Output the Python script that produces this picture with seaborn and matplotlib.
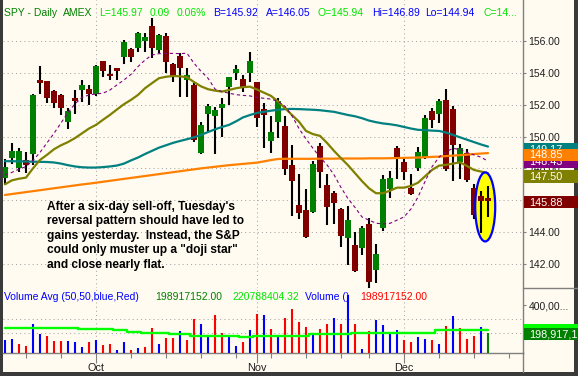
import numpy as np
import pandas as pd
import matplotlib
matplotlib.use("Agg")
import matplotlib.pyplot as plt
import seaborn as sns
from matplotlib.patches import Rectangle, Ellipse
from matplotlib.lines import Line2D

sns.set_theme(style="white")
plt.rcParams['font.family'] = ['Liberation Sans', 'DejaVu Sans']

# ---------------- data ----------------
dates = pd.bdate_range("2007-09-12", "2007-12-19")
dates = dates[dates != pd.Timestamp("2007-11-22")]

opens = [147.38,148.67,148.05,148.53,148.90,153.54,153.47,152.85,152.60,150.93,
         152.43,152.95,153.01,152.64,154.73,153.93,154.27,155.00,155.52,155.56,
         156.02,156.94,155.43,156.31,154.54,155.06,153.55,153.24,148.95,151.40,
         151.29,151.77,153.13,153.97,153.61,154.01,153.41,151.73,149.72,150.93,
         150.66,148.22,145.71,145.39,145.24,149.41,146.96,146.44,145.45,143.65,
         143.19,143.03,144.51,141.63,144.24,146.71,149.26,148.42,146.79,148.05,
         148.70,151.61,151.40,152.30,151.73,148.38,148.95,146.79,146.27,146.16]
highs = [148.57,149.57,149.26,149.00,152.70,154.43,153.50,152.90,152.65,151.76,
         152.90,153.54,153.26,154.52,154.75,154.48,154.31,156.06,155.55,156.56,
         156.50,157.42,156.45,156.50,154.60,155.23,154.29,153.36,150.93,152.05,
         151.88,152.40,153.76,154.49,153.87,155.33,153.44,152.09,151.31,152.44,
         151.31,149.47,147.65,146.71,148.47,149.58,147.65,146.60,145.50,145.64,
         143.99,144.39,144.91,143.26,147.59,147.86,149.43,148.64,147.65,149.33,
         151.36,151.78,152.36,152.99,151.92,149.52,149.20,147.00,146.60,146.89]
lows = [146.96,148.25,147.80,147.69,148.20,152.70,152.08,151.76,151.34,150.50,
        151.39,152.18,151.97,152.56,153.75,153.54,153.54,154.58,154.68,155.33,
        155.31,154.91,155.23,153.97,153.44,152.50,152.50,149.68,148.90,150.31,
        148.89,149.95,151.98,153.55,152.82,153.44,150.62,149.26,148.99,149.93,
        147.59,145.03,144.83,143.65,145.18,146.79,144.45,144.51,143.09,141.94,
        141.52,142.57,140.51,140.79,144.07,146.13,147.34,147.28,146.33,147.86,
        148.60,150.56,150.87,147.86,147.23,147.34,147.13,144.83,143.92,144.94]
closes = [148.11,149.09,149.09,148.21,152.60,153.39,152.39,152.08,151.76,151.60,
          152.26,153.22,152.64,154.41,154.10,153.81,154.10,155.94,155.00,156.50,
          156.27,155.54,156.38,154.70,153.76,154.29,153.87,149.78,150.73,151.92,
          151.67,152.05,153.72,154.24,153.03,154.74,151.15,151.35,150.31,152.23,
          147.96,147.23,145.22,143.71,148.26,147.79,145.60,145.85,143.77,144.76,
          141.56,144.28,140.85,142.63,147.34,147.38,148.74,147.79,146.38,149.05,
          151.15,151.04,152.23,147.96,149.47,149.30,147.28,145.08,145.97,145.97]

ma10 = [147.59,147.75,147.95,148.11,148.50,149.00,149.60,150.20,150.85,151.50,
        152.05,152.45,152.61,152.67,152.72,152.92,153.24,153.55,153.90,154.39,
        154.80,155.12,155.20,155.22,155.22,155.20,155.23,154.60,154.10,153.66,
        152.98,152.82,152.72,152.63,152.58,152.55,152.45,152.40,152.35,152.20,
        151.90,151.30,150.50,149.85,149.26,148.70,148.22,147.60,146.80,146.10,
        145.55,144.95,144.75,144.56,144.51,144.55,144.75,144.95,145.45,146.20,
        147.17,148.10,148.70,149.05,149.25,149.20,149.00,148.85,148.70,148.45]
ma20 = [147.00,147.25,147.35,147.42,148.00,148.53,148.85,149.20,149.45,149.65,
        149.90,150.20,150.50,150.73,151.05,151.36,151.70,152.03,152.30,152.61,
        153.03,153.35,153.66,153.75,153.80,153.78,153.72,153.42,153.15,152.97,
        152.88,152.82,152.92,153.03,153.10,153.13,152.95,152.75,152.55,152.20,
        151.78,151.35,150.93,150.35,150.15,150.04,149.60,149.10,148.64,148.20,
        147.70,147.20,146.75,146.44,146.44,146.60,146.79,146.79,146.90,147.10,
        147.50,147.90,148.17,148.22,148.30,148.38,148.15,147.90,147.80,147.70]
ma50 = [148.45,148.45,148.44,148.43,148.42,148.41,148.40,148.37,148.30,148.20,
        148.12,148.07,148.05,148.05,148.08,148.12,148.18,148.30,148.50,148.68,
        148.90,149.10,149.30,149.45,149.60,149.72,149.83,149.95,150.10,150.28,
        150.45,150.60,150.73,150.95,151.20,151.35,151.48,151.55,151.62,151.68,
        151.72,151.73,151.72,151.70,151.68,151.65,151.60,151.55,151.45,151.35,
        151.27,151.15,151.00,150.90,150.82,150.77,150.70,150.60,150.50,150.42,
        150.40,150.37,150.35,150.25,150.10,149.95,149.80,149.65,149.50,149.37]
ma200 = [146.33,146.39,146.45,146.51,146.57,146.63,146.69,146.75,146.81,146.87,
         146.93,146.99,147.04,147.10,147.16,147.22,147.28,147.34,147.40,147.46,
         147.52,147.58,147.64,147.70,147.76,147.82,147.88,147.94,148.00,148.05,
         148.10,148.15,148.20,148.24,148.28,148.32,148.36,148.44,148.52,148.59,
         148.60,148.60,148.60,148.60,148.60,148.61,148.61,148.61,148.62,148.62,
         148.62,148.62,148.63,148.63,148.63,148.64,148.65,148.66,148.67,148.68,
         148.70,148.72,148.74,148.77,148.80,148.83,148.86,148.90,148.93,148.96]

volume_m = [152,159,124,109,266,195,181,145,145,145,
            138,102,138,152,119,124,81,138,81,97,
            102,238,124,166,166,216,152,302,269,181,
            333,205,181,109,138,224,340,333,231,181,
            307,373,283,247,200,231,269,309,269,473,
            264,86,216,297,261,204,226,152,138,174,
            159,152,124,254,324,236,159,181,245,199]
volume_dir = "BBRRBBRRRBBBRBRRBBRBRRBRRBRRBBRRBBRBRBRBRRRRBRRBRBRBRBBBBRRBBRBRBRRRBG"
vol_avg_m = [236,236,236,236,236,236,236,236,236,236,
             236,231,231,231,231,231,221,221,212,212,
             204,204,204,204,195,195,195,183,183,183,
             183,183,183,183,171,171,181,181,181,181,
             181,181,181,181,193,193,193,193,193,193,
             204,204,204,204,204,204,204,204,204,204,
             204,204,221,221,221,221,221,221,221,221]

price_ticks = [142, 144, 146, 148, 150, 152, 154, 156]
month_names = ["Oct", "Nov", "Dec"]

header = [("SPY - Daily", "#008000"), ("AMEX", "#008000"), ("L=145.97", "#00E600"),
          ("0.09", "#00E600"), ("0.06%", "#00E600"), ("B=145.92", "#0000FF"),
          ("A=146.05", "#0000FF"), ("O=145.94", "#00E600"), ("Hi=146.89", "#0000FF"),
          ("Lo=144.94", "#0000FF"), ("C=14...", "#00E600")]
vol_header = [("Volume Avg (50,50,blue,Red)", "#0000FF"), ("198917152.00", "#008000"),
              ("220788404.32", "#00E600"), ("Volume ()", "#0000FF"), ("198917152.00", "#FF0000")]
note_lines = ["After a six-day sell-off, Tuesday's",
              "reversal pattern should have led to",
              "gains yesterday.  Instead, the S&P",
              "could only muster up a \"doji star\"",
              "and close nearly flat."]

# ---------------- figure ----------------
W, H = 578, 376
CREAM = "#FFFBF0"
GRID = "#A8A8A8"
SPINE = "#808080"
FS = 7.5
fig = plt.figure(figsize=(W / 100, H / 100), dpi=100, facecolor="#3A3A3A")
fig.patches.append(Rectangle((3.3 / W, 1 - 371.5 / H), (574 - 3.3) / W, 371.5 / H,
                             transform=fig.transFigure, facecolor=CREAM,
                             edgecolor="none", zorder=-10))

def fpx(px, py):
    return px / W, 1 - py / H

ax1 = fig.add_axes([3.3 / W, 1 - 288 / H, 519.7 / W, 288 / H])
ax2 = fig.add_axes([3.3 / W, 1 - 352.5 / H, 519.7 / W, 64 / H])
for a in (ax1, ax2):
    a.set_facecolor("none")
    for s in ("left", "top"):
        a.spines[s].set_visible(False)
    a.spines["right"].set_color(SPINE)
    a.spines["right"].set_linewidth(1.0)
ax1.spines["bottom"].set_visible(False)
ax2.spines["bottom"].set_color(SPINE)
ax2.spines["bottom"].set_linewidth(1.0)

x = np.arange(len(dates))
o = np.array(opens); c = np.array(closes); hi = np.array(highs); lo = np.array(lows)
XMIN, XMAX = -0.24, 74.0
PMIN, PMAX = 140.49, 158.57
PPU = 288 / (PMAX - PMIN)

month_idx = [i for i in range(1, len(dates)) if dates[i].month != dates[i - 1].month]
week_idx = [i for i in range(len(dates)) if dates[i].weekday() == 0 or
            (i > 0 and dates[i].isocalendar()[1] != dates[i - 1].isocalendar()[1])]
week_idx = week_idx + [week_idx[-1] + 5]

# grid
ax1.set_xlim(XMIN, XMAX); ax1.set_ylim(PMIN, PMAX)
ax1.set_xticks(month_idx)
ax1.tick_params(axis="x", length=0, labelbottom=False)
ax1.grid(True, color=GRID, linestyle=(0, (1, 3)), linewidth=0.75)

# candles
def draw_candles(idx, z):
    idx = np.asarray(idx)
    up = c[idx] >= o[idx]
    colors = np.where(up, "#008000", "#800000")
    ax1.vlines(x[idx], lo[idx], hi[idx], color="black", linewidth=1.5, zorder=z)
    body = np.maximum(np.abs(c[idx] - o[idx]), 0.12)
    ax1.bar(x[idx], body, bottom=np.minimum(o[idx], c[idx]), width=0.74,
            color=colors, linewidth=0, zorder=z + 0.1)

draw_candles(np.arange(len(x)), 3)

# moving averages
sns.lineplot(x=x, y=ma200, ax=ax1, color="#FF8000", linewidth=1.6, zorder=4)
sns.lineplot(x=x, y=ma50, ax=ax1, color="#008080", linewidth=1.6, zorder=4)
sns.lineplot(x=x, y=ma20, ax=ax1, color="#808000", linewidth=1.6, zorder=4)
sns.lineplot(x=x, y=ma10, ax=ax1, color="#800080", linewidth=0.8,
             linestyle=(0, (3, 2.5)), zorder=4)

# highlight ellipse around the doji
ax1.add_patch(Ellipse((68.6, 145.58), width=2.86, height=69 / PPU,
                      facecolor="#FFFF00", edgecolor="#0000FF", linewidth=1.6, zorder=5))
draw_candles([68, 69], 6)

# price axis
ax1.yaxis.tick_right()
ax1.set_yticks(price_ticks)
ax1.set_yticklabels([f"{v:.2f}" for v in price_ticks])
ax1.tick_params(axis="y", length=2.2, width=0.8, color=SPINE, labelsize=FS,
                labelcolor="#202020", pad=1.8, left=False, right=True)
ax1.set_xlabel(""); ax1.set_ylabel("")

ytr = ax1.get_yaxis_transform()
def price_label(val, color, text, z):
    h = 12.5 / PPU
    ax1.add_patch(Rectangle((1.0015, val - h / 2), 0.12, h, transform=ytr,
                            facecolor=color, edgecolor="none", clip_on=False, zorder=z))
    ax1.text(1.0115, val - 0.03, text, transform=ytr, color="white", fontsize=FS + 0.3,
             ha="left", va="center", clip_on=False, zorder=z + 0.1)

price_label(149.17, "#008080", "149.17", 20)
price_label(148.43, "#800080", "148.43", 21)
price_label(148.85, "#FF8000", "148.85", 22)
price_label(147.50, "#808000", "147.50", 23)
price_label(145.88, "#800000", "145.88", 24)

# ---------------- volume panel ----------------
VMIN, VMAX = 62.9, 519.9
VPU = 64 / (VMAX - VMIN)
ax2.set_xlim(XMIN, XMAX); ax2.set_ylim(VMIN, VMAX)
vcol = {"B": "#0000FF", "R": "#FF0000", "G": "#008000"}
ax2.vlines(x, VMIN, volume_m, colors=[vcol[k] for k in volume_dir], linewidth=1.5, zorder=3)
sns.lineplot(x=x, y=vol_avg_m, ax=ax2, color="#00FF00", linewidth=1.7,
             drawstyle="steps-mid", zorder=4)
for gv in (200, 300):
    ax2.axhline(gv, color=GRID, linestyle=(0, (1, 3)), linewidth=0.75, zorder=1)
for mi in month_idx:
    ax2.axvline(mi, color=GRID, linestyle=(0, (1, 3)), linewidth=0.75, zorder=1)
ax2.yaxis.tick_right()
ax2.set_yticks([400])
ax2.set_yticklabels(["400,00..."])
ax2.tick_params(axis="y", length=2.2, width=0.8, color=SPINE, labelsize=FS,
                labelcolor="#202020", pad=1.8, left=False, right=True)
ax2.set_xticks(month_idx)
ax2.set_xticklabels(month_names)
ax2.set_xticks(week_idx, minor=True)
ax2.tick_params(axis="x", which="major", length=7, width=0.8, color=SPINE,
                labelsize=FS + 0.3, labelcolor="#202020", pad=0.5, bottom=True, direction="out")
ax2.tick_params(axis="x", which="minor", length=3.5, width=0.8, color=SPINE,
                bottom=True, direction="out")
ax2.set_xlabel(""); ax2.set_ylabel("")

vtr = ax2.get_yaxis_transform()
def vol_label(val, color, text, z):
    h = 12.5 / VPU
    ax2.add_patch(Rectangle((1.0015, val - h / 2), 0.12, h, transform=vtr,
                            facecolor=color, edgecolor="none", clip_on=False, zorder=z))
    ax2.text(1.0115, val - 3, text, transform=vtr, color="white", fontsize=FS + 0.3,
             ha="left", va="center", clip_on=False, zorder=z + 0.1)

vol_label(vol_avg_m[-1] + 3, "#00FF00", "", 20)
vol_label(volume_m[-1] - 4, "#008000", "198,917,1", 21)

# extra frame lines
fig.add_artist(Line2D([523 / W, 523 / W], [1 - 352 / H, 1 - 371.5 / H],
                      color=SPINE, linewidth=1.0, transform=fig.transFigure))
fig.add_artist(Line2D([523 / W, 578 / W], [1 - 288.3 / H, 1 - 288.3 / H],
                      color=SPINE, linewidth=1.0, transform=fig.transFigure))

# ---------------- texts ----------------
hx = [4, 63, 99, 150, 177, 213, 266, 318, 372, 425, 483]
for (s, col), px in zip(header, hx):
    fig.text(*fpx(px, 12.5), s, color=col, fontsize=FS, ha="left", va="center")
vx = [3.5, 155, 232, 305, 360]
for (s, col), px in zip(vol_header, vx):
    fig.text(*fpx(px, 297), s, color=col, fontsize=FS, ha="left", va="center", zorder=6)
for k, line in enumerate(note_lines):
    fig.text(*fpx(47, 206.7 + 14.6 * k), line, color="black", fontsize=8.6,
             fontweight="bold", ha="left", va="center")

fig.savefig("out.png", dpi=100, facecolor=fig.get_facecolor())
